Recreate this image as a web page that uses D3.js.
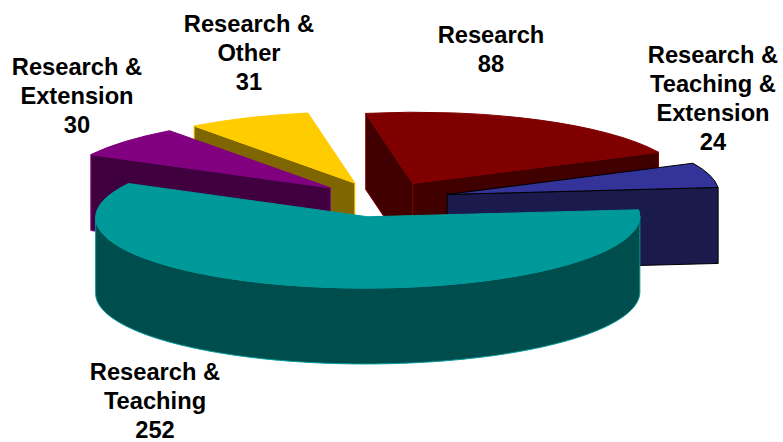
<!DOCTYPE html>
<html>
<head>
<meta charset="utf-8">
<script src="https://d3js.org/d3.v7.min.js"></script>
<style>
  html, body { margin: 0; padding: 0; background: #fff; }
  text { font-family: "Liberation Sans", Arial, sans-serif; font-weight: bold; font-size: 23.7px; fill: #000; }
  path { stroke-width: 1px; stroke-linejoin: round; vector-effect: non-scaling-stroke; }
</style>
</head>
<body>
<svg id="canvas" width="783" height="442"></svg>
<script>
// values
const categories = ["Research", "Research &\nTeaching &\nExtension", "Research &\nTeaching", "Research &\nExtension", "Research &\nOther"];
const values = [88, 24, 252, 30, 31];

const topColors = ["#800000", "#333399", "#009999", "#800080", "#ffcc00"];
const wallColors = ["#400000", "#1a1a4d", "#004d4d", "#400040", "#806600"];
const edgeColors = ["#800000", "#000000", "#009999", "#800080", "#ffcc00"];
const drawOrder = [0, 1, 4, 3, 2]; // back to front

// label centre x and first baseline
const labelX = [491, 713, 155, 77, 249];
const labelY = [43, 63, 380, 75, 32];
const lineHeight = 29;

// the tilted pie: where a unit vector along sin/cos of the angle lands on screen
const cx = 381.5, cy = 199.3;
const ax = 268, ay = -13, bx = -47, by = -70;
const depth = 76;
const explode = 0.25;

const svg = d3.select("#canvas");

const pie = d3.pie().sort(null).value(d => d)(values);
const arc = d3.arc().innerRadius(0).outerRadius(1);

const px = (a, r) => r * (ax * Math.sin(a) + bx * Math.cos(a));
const py = (a, r) => r * (ay * Math.sin(a) + by * Math.cos(a));

// angles where the rim turns from facing away to facing the viewer
const frontStart = Math.atan2(ax, bx);
const frontEnd = frontStart + Math.PI;

const wall = d3.line().x(d => d[0]).y(d => d[1]);

drawOrder.forEach(i => {
  const s = pie[i];
  const mid = (s.startAngle + s.endAngle) / 2;
  const ox = cx + px(mid, explode), oy = cy + py(mid, explode);
  const g = svg.append("g");

  // flat side faces, only those turned to the viewer
  [[s.startAngle, -1], [s.endAngle, 1]].forEach(([a, side]) => {
    if (px(a, 1) * side <= 0) return;
    const x1 = ox + px(a, 1), y1 = oy + py(a, 1);
    g.append("path")
      .attr("d", wall([[ox, oy], [x1, y1], [x1, y1 + depth], [ox, oy + depth]]) + "Z")
      .attr("fill", wallColors[i])
      .attr("stroke", edgeColors[i]);
  });

  // curved outer wall
  const a0 = Math.max(s.startAngle, frontStart), a1 = Math.min(s.endAngle, frontEnd);
  if (a1 > a0) {
    const rim = d3.area()
      .x(a => ox + px(a, 1))
      .y0(a => oy + py(a, 1))
      .y1(a => oy + py(a, 1) + depth);
    g.append("path")
      .attr("d", rim(d3.range(a0, a1, 0.01).concat(a1)))
      .attr("fill", wallColors[i])
      .attr("stroke", edgeColors[i]);
  }

  // top of the slice
  g.append("path")
    .attr("d", arc(s))
    .attr("transform", `matrix(${ax},${ay},${-bx},${-by},${ox},${oy})`)
    .attr("fill", topColors[i])
    .attr("stroke", edgeColors[i]);
});

categories.forEach((c, i) => {
  const lines = c.split("\n").concat(values[i]);
  const t = svg.append("text").attr("text-anchor", "middle");
  lines.forEach((l, j) => {
    t.append("tspan")
      .attr("x", labelX[i])
      .attr("y", labelY[i] + j * lineHeight)
      .text(l);
  });
});
</script>
</body>
</html>
